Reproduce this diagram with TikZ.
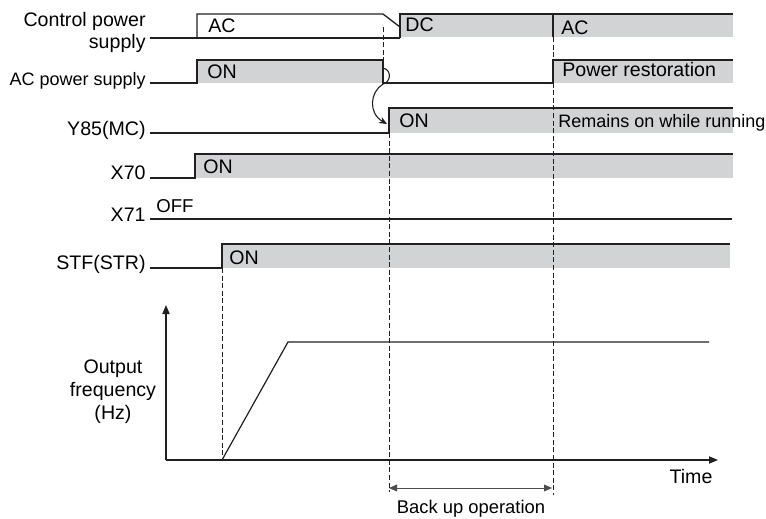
\documentclass[tikz,border=0pt]{standalone}
\usepackage{fontspec}
\setmainfont{Liberation Sans}
\usepackage{tikz}
\usetikzlibrary{arrows.meta}
\definecolor{ongray}{RGB}{209, 211, 212}
\definecolor{linegray}{RGB}{35, 31, 32}
\tikzset{
  sigfont/.style={font=\fontsize{9.8}{11}\selectfont},
  smallfont/.style={font=\fontsize{9}{11}\selectfont},
  siglabel/.style={sigfont, anchor=base east, inner sep=0pt},
  boxtext/.style ={sigfont, anchor=base west, inner sep=0pt},
  sigline/.style ={line width=0.65pt, draw=linegray, line join=miter},
  onfill/.style  ={fill=ongray},
  guide/.style   ={line width=0.4pt, draw=linegray, dash pattern=on 2.5pt off 1.3pt},
  freqaxis/.style={line width=0.6pt, draw=linegray, -{Triangle[length=4.5pt, width=3.6pt]}},
  spanarrow/.style={line width=0.5pt, draw=linegray!80, {Triangle[length=4pt, width=3.4pt]}-{Triangle[length=4pt, width=3.4pt]}},
  relayarrow/.style={line width=0.55pt, draw=linegray, -{Stealth[length=4pt, width=3.4pt]}},
}

\begin{document}
\begin{tikzpicture}[x=0.5pt, y=-0.5pt]
  \useasboundingbox (0,0) rectangle (766,519);

  % Gray "on" areas
  \fill[onfill] (400,14) rectangle (733,37);
  \fill[onfill] (197,60) rectangle (383,83);
  \fill[onfill] (553,60) rectangle (733,83);
  \fill[onfill] (389,108) rectangle (733,133);
  \fill[onfill] (195,154) rectangle (733,178);
  \fill[onfill] (222,244) rectangle (730,268);

  % Event instants
  \coordinate (fail)  at (383,27);
  \coordinate (mcon)  at (389,133);
  \coordinate (back)  at (553,37);
  \coordinate (start) at (222,268);
  \coordinate (fail0) at (383,60);
  \coordinate (mc0)   at (389,492);
  \coordinate (back0) at (553,495);
  \coordinate (start0) at (222,460);

  % Guide lines
  \draw[guide] (fail) -- (fail0);
  \draw[guide] (mcon) -- (mc0);
  \draw[guide] (back) -- (back0);
  \draw[guide] (start) -- (start0);

  % Signals
  \draw[sigline] (150,38) -- (400,38);
  \draw[sigline] (197,38) -- (197,14) -- (383,14) -- (400,27);
  \draw[sigline] (400,38) -- (400,14) -- (733,14);
  \draw[sigline] (553,14) -- (553,37);
  \draw[sigline] (150,83) -- (197,83) -- (197,60) -- (383,60) -- (383,83)
                 -- (553,83) -- (553,60) -- (733,60);
  \draw[sigline] (150,133) -- (389,133) -- (389,108) -- (733,108);
  \draw[sigline] (150,178) -- (195,178) -- (195,154) -- (733,154);
  \draw[sigline] (150,219) -- (732,219);
  \draw[sigline] (150,268) -- (222,268) -- (222,244) -- (730,244);

  % Relay pick-up
  \draw[relayarrow] (383,68) .. controls (392,70) and (391,82) .. (383,84)
              .. controls (370,92) and (368,113) .. (387,124);

  % Row labels
  \node[sigfont, anchor=north east, align=right, inner sep=0pt] (lbctl) at (146,12) {Control power\\supply};
  \node[siglabel, smallfont] (lbac) at (146,86) {AC power supply};
  \foreach \y/\nm/\txt in {136/lbmc/Y85(MC), 179/lbsx/X70, 221/lbsy/X71, 269/lbstf/STF(STR)}{
    \node[siglabel] (\nm) at (146,\y) {\txt};
  }

  % State texts
  \node[boxtext] (ac1)  at (208,33)  {AC};
  \node[boxtext] (dc)   at (405,32)  {DC};
  \node[boxtext] (ac2)  at (561,35)  {AC};
  \node[boxtext] (on1)  at (207,79)  {ON};
  \node[boxtext] (rest) at (562,77)  {Power restoration};
  \node[boxtext] (on2)  at (399,128) {ON};
  \node[boxtext, smallfont] (keep) at (558,128) {Remains on while running};
  \node[boxtext] (on3)  at (203,174) {ON};
  \node[boxtext, font=\fontsize{9.3}{11}\selectfont] (off) at (156,213) {OFF};
  \node[boxtext] (on4)  at (229,264) {ON};

  % Output frequency
  \coordinate (org) at (166,460);
  \coordinate (ytop) at (166,305);
  \coordinate (xend) at (718,460);
  \draw[freqaxis] (org) -- (ytop);
  \draw[freqaxis] (org) -- (xend);
  \draw[sigline, line width=0.6pt] (start0) -- (288,342) -- (709,342);
  \node[font=\fontsize{9.8}{11.5}\selectfont, anchor=north, align=center, inner sep=0pt] (fout) at (113,359)
    {Output\\frequency\\(Hz)};
  \node[sigfont, anchor=base, inner sep=0pt] (time) at (691,483) {Time};

  % Back up span
  \coordinate (bu1) at (389,488);
  \coordinate (bu2) at (552,488);
  \draw[spanarrow] (bu1) -- (bu2);
  \node[font=\fontsize{9.2}{11}\selectfont, anchor=base, inner sep=0pt] (bup) at (471,513) {Back up operation};

\end{tikzpicture}
\end{document}
